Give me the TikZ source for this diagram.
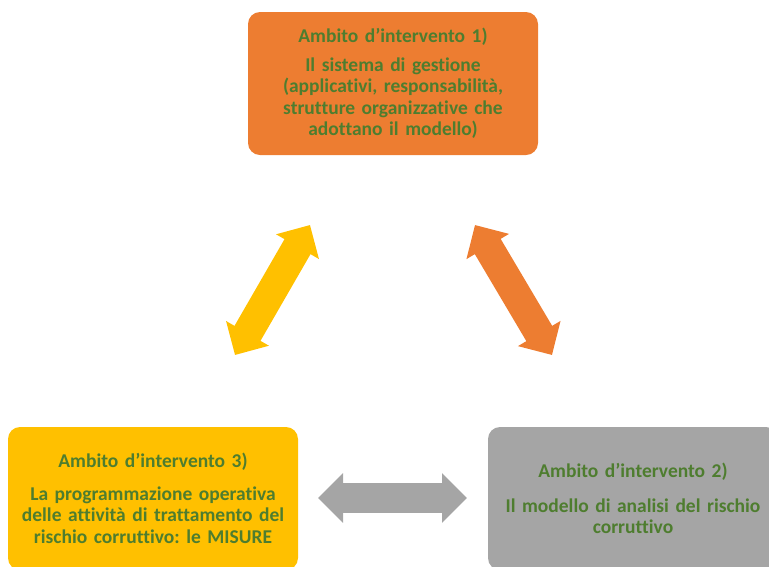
\documentclass[tikz,border=0pt]{standalone}
\usepackage{fontspec}
\setmainfont[Ligatures={NoCommon}]{Carlito}
\frenchspacing
\usetikzlibrary{arrows.meta}
\definecolor{cOrange}{HTML}{ED7D31}
\definecolor{cGray}{HTML}{A5A5A5}
\definecolor{cYellow}{HTML}{FFC000}
\definecolor{cText}{HTML}{4E7D2F}
\tikzset{
  ambox/.style={rounded corners=12pt, minimum width=290pt, minimum height=143pt,
    text width=286pt, align=center, inner sep=0pt, text=cText,
    font=\bfseries\fontsize{19.5}{21.5}\selectfont},
  bigarrow/.style={line width=30pt,
    {Triangle[width=48pt,length=25pt]}-{Triangle[width=48pt,length=25pt]}},
}
\begin{document}
\begin{tikzpicture}[x=1pt,y=-1pt]
\useasboundingbox (0,0) rectangle (769,566);
\clip (0,0) rectangle (769,566);
\node[ambox, fill=cOrange] (b1) at (393,83.5)
  {Ambito d’intervento 1)\\[7pt]Il sistema di gestione\\(applicativi, responsabilità,\\strutture organizzative che\\adottano il modello)};
\node[ambox, fill=cGray] (b2) at (633,498.5)
  {Ambito d’intervento 2)\\[13pt]Il modello di analisi del rischio\\corruttivo};
\node[ambox, fill=cYellow] (b3) at (153,498.5)
  {Ambito d’intervento 3)\\[11pt]La programmazione operativa\\delle attività di trattamento del\\rischio corruttivo: le MISURE};
\coordinate (y1) at (235,355);
\coordinate (y2) at (310,225);
\coordinate (o1) at (475,225);
\coordinate (o2) at (552,355);
\coordinate (g1) at (318,498);
\coordinate (g2) at (467,498);
\draw[bigarrow, cYellow] (y1) -- (y2);
\draw[bigarrow, cOrange] (o1) -- (o2);
\draw[bigarrow, cGray] (g1) -- (g2);
\end{tikzpicture}
\end{document}
